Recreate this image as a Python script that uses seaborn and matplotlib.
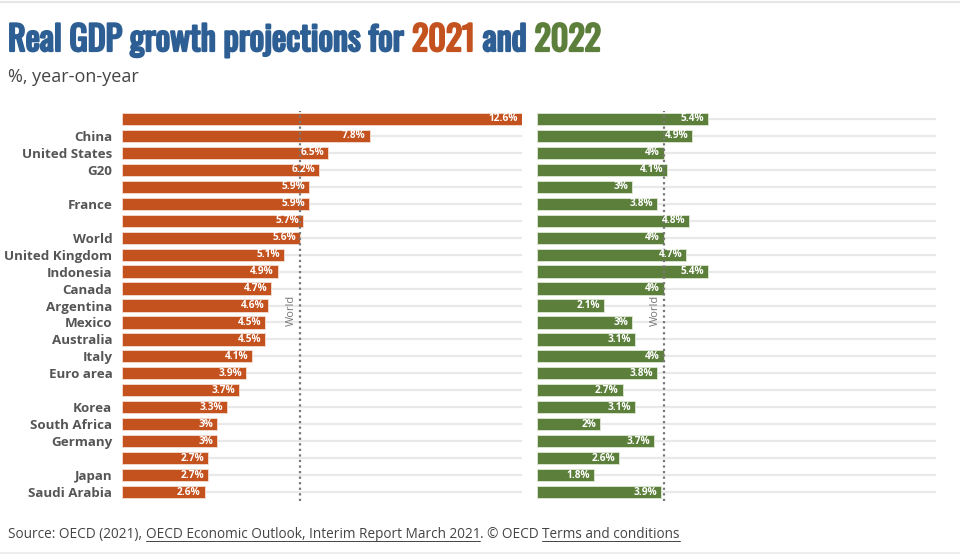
import pandas as pd
import matplotlib
import matplotlib.pyplot as plt
import matplotlib.patheffects as pe
import seaborn as sns
matplotlib.use('Agg')

countries = ['', 'China', 'United States', 'G20', '', 'France', '', 'World',
             'United Kingdom', 'Indonesia', 'Canada', 'Argentina', 'Mexico',
             'Australia', 'Italy', 'Euro area', '', 'Korea', 'South Africa',
             'Germany', '', 'Japan', 'Saudi Arabia']
growth_2021 = [12.6, 7.8, 6.5, 6.2, 5.9, 5.9, 5.7, 5.6, 5.1, 4.9, 4.7, 4.6,
               4.5, 4.5, 4.1, 3.9, 3.7, 3.3, 3.0, 3.0, 2.7, 2.7, 2.6]
growth_2022 = [5.4, 4.9, 4.0, 4.1, 3.0, 3.8, 4.8, 4.0, 4.7, 5.4, 4.0, 2.1,
               3.0, 3.1, 4.0, 3.8, 2.7, 3.1, 2.0, 3.7, 2.6, 1.8, 3.9]
world_2021 = 5.6
world_2022 = 4.0

ORANGE = '#c4521f'
GREEN = '#5c7f3b'
BLUE = '#2d5f94'

sns.set_theme(style='white')
plt.rcParams['font.family'] = ['Open Sans', 'DejaVu Sans']

data = pd.DataFrame({'row': range(len(countries)), 'country': countries,
                     'y2021': growth_2021, 'y2022': growth_2022})

W, H = 960, 555
fig = plt.figure(figsize=(W / 100, H / 100), dpi=100)

def box(x0, x1, y0, y1):
    return [x0 / W, 1 - y1 / H, (x1 - x0) / W, (y1 - y0) / H]

ax1 = fig.add_axes(box(122, 522, 110.5, 500.5))
ax2 = fig.add_axes(box(537, 936, 110.5, 500.5))

def panel(ax, col, color, world):
    for i in data['row']:
        ax.axhline(i, color='#e9e9e9', lw=1.6, zorder=0)
    sns.barplot(data=data, x=col, y='row', orient='h', color=color,
                width=0.72, edgecolor='#f3ddd2' if color == ORANGE else '#dfe8d6',
                linewidth=0.6, saturation=1, ax=ax, zorder=2)
    for i, v in enumerate(data[col]):
        ax.text(v - 0.12, i, f'{v:g}%', ha='right', va='center', color='white',
                fontsize=7.3, fontweight='bold', zorder=4)
    ax.axvline(world, color='#777777', lw=1.6, ls=(0, (1, 1.5)), zorder=3)
    ax.text(world - 0.08, 11.3, 'World', rotation=90, ha='right', va='center',
            color='#777777', fontsize=8)
    ax.set_xlim(0, 12.6)
    ax.set_ylim(len(countries) - 0.5, -0.5)
    ax.set_xlabel('')
    ax.set_ylabel('')
    ax.set_xticks([])
    sns.despine(ax=ax, left=True, bottom=True)

panel(ax1, 'y2021', ORANGE, world_2021)
panel(ax2, 'y2022', GREEN, world_2022)

ax1.set_yticks(range(len(countries)))
ax1.set_yticklabels(countries, fontsize=9.6, fontweight='bold', color='#555555')
ax1.tick_params(axis='y', length=0, pad=7)
ax2.set_yticks([])

fig.canvas.draw()
r = fig.canvas.get_renderer()

def after(prev, s, color, kw):
    bb = prev.get_window_extent(r)
    x, y = prev.get_position()
    tx = prev.get_transform().transform((x, y))
    return fig.text(bb.x1 / W, tx[1] / H, s, color=color, **kw)

# title in three colours
title_kw = dict(fontsize=24.5, fontweight='bold', fontstretch='condensed',
                family=['Oswald', 'DejaVu Sans'], va='baseline')
t0 = fig.text(8 / W, 1 - 51 / H, 'Real GDP growth projections for ', color=BLUE,
              path_effects=[pe.withStroke(linewidth=1.6, foreground=BLUE)], **title_kw)
t1 = after(t0, '2021', ORANGE, title_kw)
t2 = after(t1, ' and ', BLUE, title_kw)
t3 = after(t2, '2022', GREEN, title_kw)
for t in (t1, t2, t3):
    t.set_path_effects([pe.withStroke(linewidth=1.6, foreground=t.get_color())])

fig.text(8 / W, 1 - 82 / H, '%, year-on-year', fontsize=13, color='#444444',
         va='baseline')

# source line with underlined links
src_kw = dict(fontsize=9.8, va='baseline')
parts = [('Source: OECD (2021), ', False),
         ('OECD Economic Outlook, Interim Report March 2021', True),
         ('. © OECD ', False),
         ('Terms and conditions', True)]
prev = fig.text(8 / W, 1 - 538 / H, parts[0][0], color='#444444', **src_kw)
fig.canvas.draw()
for s, under in parts[1:]:
    prev = after(prev, s, '#444444', src_kw)
    if under:
        bb = prev.get_window_extent(r)
        yb = 1 - 541 / H
        fig.add_artist(plt.Line2D([bb.x0 / W, bb.x1 / W], [yb, yb],
                                  color='#444444', lw=0.7))

fig.add_artist(plt.Line2D([0, 1], [1 - 1.5 / H, 1 - 1.5 / H], color='#e6e6e6', lw=1.5))
fig.add_artist(plt.Line2D([0, 1], [1 - 553 / H, 1 - 553 / H], color='#eeeeee', lw=1.5))

fig.savefig('out.png', dpi=100)
